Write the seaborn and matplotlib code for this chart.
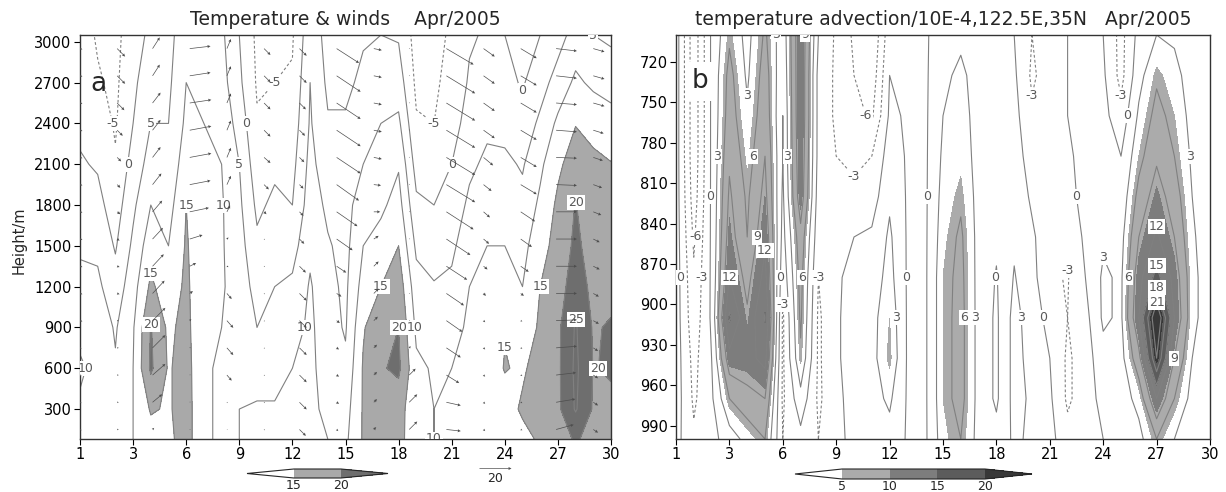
import numpy as np
import matplotlib
matplotlib.use("Agg")
import matplotlib.pyplot as plt
import seaborn as sns

# ---- panel a: temperature (degC), one row per day, values from 80 m up to 3050 m
days = list(range(31))
heights = [80, 300, 600, 900, 1200, 1500, 1800, 2100, 2400, 2700, 3050]
temp_c = [
    [8, 9.5, 10.5, 9, 7, 4, 2, 0.5, -1, -2.5, -3],
    [8, 8.5, 9, 8, 6, 4, 1.5, -0.5, -2.5, -4.5, -5.5],
    [7, 6.5, 5.5, 4.5, 2, -0.5, -2.5, -4.5, -5.5, -6, -6.5],
    [10, 10, 10, 9.5, 8, 6, 4, 2, 0, -1, -2],
    [13, 15.5, 20.8, 20.3, 16, 13, 10, 7, 5, 3, 1],
    [14, 14.5, 14.5, 14, 12, 10, 8, 6, 5, 4, 3],
    [17, 17, 17, 16.5, 16, 15.5, 15, 13, 11, 10, 9],
    [11, 11, 10.5, 10.5, 11, 11.5, 12, 11, 10, 9, 8],
    [9, 9, 9.5, 10, 10.5, 10.5, 10.5, 10, 8.5, 7, 6],
    [10, 10, 10, 9, 8, 7, 6, 5, 3, 1, 0],
    [11, 10.5, 8, 5, 3, 1, -1, -3, -4.5, -5.5, -6],
    [11, 10.5, 8, 6, 5, 3, 1, -1, -3, -5, -6],
    [12, 11.5, 10, 8, 6, 3, 0, -1.5, -3, -4.5, -5.5],
    [11, 11, 11, 11, 10.5, 9, 7.5, 6.5, 5.5, 5, 3.5],
    [10, 9, 8, 7, 6.5, 5.5, 4, 2, 0.5, -1, -2],
    [9, 8, 6, 4.5, 4, 3.5, 3, 2, 0.5, -1, -2],
    [15.5, 15.5, 15.5, 14.5, 12, 10, 8, 5, 3, 1, -0.5],
    [16, 17, 19.5, 19, 15, 12, 9, 7, 5, 2.5, 0],
    [16.5, 17, 21, 20, 18, 15, 12, 9.5, 6, 2.5, -0.5],
    [12, 11.5, 11, 9, 7, 4, 1, -2, -4.5, -6, -7],
    [10, 10, 9.5, 7.5, 5.5, 2, 0, -3, -5, -6, -7],
    [12, 11, 10, 8, 6, 4, 2, 0, -2, -3, -4],
    [12, 12, 11.5, 11, 10, 8, 6, 4, 2, 0.5, -0.5],
    [13, 13, 13, 12, 11, 10, 8, 6, 4, 2, 0.5],
    [13, 13.5, 15.2, 14.8, 12, 10, 8, 6, 3.5, 1.5, 0],
    [14, 15.5, 14.5, 13, 10, 8.5, 6.5, 4.5, 2, -0.5, -2],
    [15.5, 16.5, 16.5, 15.5, 15, 13, 11, 9, 6, 3, 0],
    [18, 19, 19, 19, 17.5, 17, 16, 14, 11, 7, 3],
    [20.5, 25.5, 26, 25.5, 23, 21, 20.2, 17.5, 14.8, 11, 7],
    [18.5, 19.5, 19.8, 19.5, 18.5, 18, 17, 16, 13.5, 9, 5],
    [17, 19, 20.5, 20.5, 18.5, 17, 16, 15.2, 12, 8, 4],
]

# ---- panel a: winds (m/s), one row per plotted column, values from 150 m up to 2950 m
wind_days = [0, 2.1, 4.1, 6.2, 8.3, 10.4, 12.4, 14.5, 16.6, 18.6, 20.7, 22.8, 24.9, 26.9, 29.0]
wind_heights = [150, 350, 550, 750, 950, 1150, 1350, 1550, 1750, 1950, 2150, 2350, 2550, 2750, 2950]
wind_u = [
    [1, 1, 1, 1, 1.5, 1.5, 1.5, 1.5, 1.5, 1.5, 1.5, 1.5, 1.5, 1.5, 1.5],
    [1, 1, 1, 1, 1, 1.5, 1.5, 1.5, 2, 2, 2.5, 3.5, 4.5, 5, 5],
    [1, 6, 8, 8, 8, 7.5, 7, 6.5, 6, 5.5, 5, 5, 5, 4.5, 4.5],
    [0.5, 0.5, 0.5, 0.5, 1, 2, 4, 8, 12, 13, 13.5, 13.5, 13.5, 13, 13],
    [0.5, 0.5, 3, 4, 4, 3, 1, 1, 2, 2.5, 2.5, 2.5, 2.5, 2.5, 2.5],
    [0.5, 0.5, 0.5, 0.5, 0.5, 0.5, 0.5, 0.5, 1.5, 3, 4, 4, 4, 4, 4],
    [4, 4.5, 4.5, 4.5, 4.5, 4.5, 4, 3, 2.5, 2.5, 3, 3.5, 4, 4.5, 4.5],
    [1, 1.5, 1.5, 1.5, 2, 3, 6, 10, 13, 14, 15, 15, 15, 15, 14],
    [1.5, 2, 2, 2, 2.5, 3, 3, 3, 4, 4.5, 5, 5, 5, 5, 5],
    [5, 5, 4, 1, 0.5, 0.5, 0.5, 0.5, 0.5, 0.5, 0.5, 0.5, 0.5, 0.5, 0.5],
    [9, 9, 8, 9, 10, 11, 13, 15, 17, 18, 18, 18, 18, 18, 17],
    [1, 1, 1, 1, 1, 1.5, 2.5, 3.5, 4, 5, 6, 7, 7, 7, 7],
    [1, 1, 1, 1, 1, 2, 5, 7, 9, 10, 10, 10, 10, 10, 10],
    [11, 12, 12.5, 13, 13, 13, 13, 13, 13, 13, 13, 13, 13, 13, 13],
    [3, 3, 3, 3, 3.5, 3.5, 4, 4, 5, 5.5, 6, 6.5, 7, 7, 7],
]
wind_v = [
    [-0.5, -0.5, -0.5, -0.5, -0.5, -0.5, -0.5, -0.5, -0.5, -0.5, -0.5, -0.5, -0.5, -0.5, -0.5],
    [0, 0, 0, 0, 0, -0.5, -0.5, -1, -1.5, -2, -2.5, -3.5, -4.5, -5, -5],
    [1, 5, 7, 8, 8, 8, 7.5, 7, 7, 7, 6.5, 6.5, 6.5, 7, 7],
    [0.3, 0.3, 0.3, 0.5, 1, 1.5, 2, 2.5, 2.5, 2.5, 2.5, 2.5, 2, 2, 1.5],
    [0, -0.5, -3.5, -4.5, -4.5, -3.5, -0.5, 1, 4, 5.5, 6, 6, 6, 6, 6],
    [-0.5, -0.5, -0.5, -0.5, -0.5, -0.5, -0.5, -0.5, -1.5, -3, -3.5, -4, -4, -4, -4],
    [-4, -4.5, -4.5, -4.5, -4.5, -4.5, -4, -3, -2.5, -2.5, -3, -3.5, -4, -4.5, -4.5],
    [-1, -1, -1, -1, -1.5, -2, -4, -7, -9, -10, -10, -10, -10, -10, -9],
    [1.5, 2, 2, 2, 2.5, 3, 3, 2, 0, -0.5, -1, -1, -1, -1, -1],
    [5, 5, 4, 1, 0.3, 0.3, 0.3, 0.3, 0.3, 0.3, 0.3, 0.3, 0.3, 0.3, 0.3],
    [-1, -2, -5, -6, -7, -7.5, -8.5, -10, -11, -11, -11, -11, -11, -11, -10],
    [-1, -1, -1, -1, -1, -1.5, -2, -3, -3.5, -4, -5, -5, -5, -5, -5],
    [-0.5, -0.5, -0.5, -0.5, -0.5, -1.5, -3.5, -5, -6, -6, -6, -6, -6, -6, -6],
    [3, 2, 1.5, 1, 0.5, 0, 0, 0, 0, -0.5, -0.5, -1, -1, -1.5, -1.5],
    [-2, -2, -2, -2, -2, -2, -2, -2, -2, -2, -2, -2, -2, -2, -2],
]

# ---- panel b: temperature advection (1E-4), one row per day, 1000 hPa up to 700 hPa
pressures = [1000, 970, 940, 910, 880, 850, 820, 790, 760, 730, 700]
advection = [
    [1, 1.5, 1.5, 1.5, 1.5, 1.5, 1.5, 1.5, 1.5, 1.5, 1.5],
    [-2.5, -3.5, -4, -5, -5.5, -6.5, -7.5, -8, -8, -8, -8],
    [-1, -0.5, 0, 0.5, 0.5, 0.5, 0.5, 0.5, 0.5, 0.5, 0.5],
    [1.5, 6, 11, 15.5, 12, 10.5, 9.5, 8.5, 7.5, 7, 5.5],
    [4, 8, 11, 9.5, 8, 6, 5.5, 4.5, 3.5, 2.5, 2],
    [6, 9, 13, 15.3, 13, 11.5, 10, 9, 8, 7.5, 6.5],
    [-3, -3.5, -3.5, -3.5, -2, -1, -0.5, 0, 0, 0.5, 1],
    [-1, 2, 5.5, 6.5, 7, 8, 11, 11.5, 12, 12, 12],
    [-3, -3.5, -3.5, -3.5, -3, -2, -1.5, -1, -1, -1, 0],
    [-1, -1, -0.5, -0.5, -0.5, -1, -2, -3, -3.5, -3.5, -3.5],
    [1, 1.5, 1.5, 1.5, 1, 0, -2, -4, -5, -6, -6.5],
    [1.5, 2, 2, 2, 1.5, 0.5, -1.5, -3, -6.5, -8, -9],
    [2, 3.5, 5.5, 5, 4, 3.5, 2.5, 1.5, 0.5, 0, -1],
    [-0.3, -0.3, -0.3, -0.3, -0.3, -0.3, -0.3, -0.3, -0.3, -0.3, -0.3],
    [-0.5, -0.5, -0.5, -0.5, -0.5, -0.5, -0.5, -0.5, -0.5, -0.5, -0.5],
    [4.5, 5, 5, 5, 5, 4.5, 4, 3.5, 3, 2.5, 2],
    [6, 7, 7, 7, 6.8, 6.5, 5.5, 4.5, 4, 3.5, 2.5],
    [2, 2, 2, 2, 2, 2, 2, 2, 2, 2, 2],
    [1, -0.5, -0.5, -0.5, -0.2, 0.5, 1, 1, 1, 1, 1],
    [3.5, 4, 4, 4, 3.2, 2.5, 2, 1.5, 1, 0.5, 0],
    [2.5, 2.5, 2, 1.5, 1, 0.5, -0.5, -1.5, -2.5, -3.5, -3],
    [1, 0.5, 0, -1, -2.5, -2, -1.5, -1, -1, -1.5, -2],
    [-2, -3.5, -3.5, -3, -3.2, -2, -1, -0.5, 0, 0, 0],
    [-1, -1.5, -1.5, -1, 0, 0.5, 1, 1, 1, 1, 0.5],
    [0, 1, 2, 3.5, 3.5, 2.5, 2, 1.5, 1, 0.5, 0],
    [1, 1.5, 2, 2.5, 2.5, 2, 1, 0, -2, -4, -4],
    [2, 4, 8, 12, 11, 9, 7, 5, 3.5, 2, 1],
    [6, 12, 21, 24, 16, 12.5, 10.5, 8.5, 7, 5.5, 3],
    [3, 6, 9, 12, 11, 9, 7.5, 6, 5, 4, 2.5],
    [1, 2, 3, 4, 4, 3.5, 3, 2.5, 2, 1.5, 1],
    [0, 0.5, 1, 1, 1, 1, 1, 1, 1, 0.5, 0],
]

x_ticks = [0, 3, 6, 9, 12, 15, 18, 21, 24, 27, 30]
x_labels = ["1", "3", "6", "9", "12", "15", "18", "21", "24", "27", "30"]
height_ticks = [300, 600, 900, 1200, 1500, 1800, 2100, 2400, 2700, 3000]
pressure_ticks = [720, 750, 780, 810, 840, 870, 900, 930, 960, 990]

W, H = 1226, 492
sns.set_style("ticks")
plt.rcParams["font.family"] = ["DejaVu Sans"]
plt.rcParams["contour.negative_linestyle"] = (0, (2.5, 2))

fig = plt.figure(figsize=(W / 100, H / 100), dpi=100)
ax1 = fig.add_axes([80 / W, 1 - 439 / H, 531 / W, 404 / H])
ax2 = fig.add_axes([676 / W, 1 - 439 / H, 534 / W, 404 / H])

line_grey = "0.5"
label_grey = "0.35"


def label_contours(ax, cs, levels):
    # GrADS style: upright labels in small white boxes
    texts = ax.clabel(cs, levels=levels, fmt="%d", fontsize=9, inline=False,
                      colors=label_grey)
    for t in texts:
        t.set_rotation(0)
        t.set_bbox(dict(boxstyle="square,pad=0.08", fc="white", ec="none"))


# panel a
Xa, Ya = np.meshgrid(days, heights)
T = np.array(temp_c).T
cf1 = ax1.contourf(Xa, Ya, T, levels=[15, 20], extend="both",
                   colors=["white", "#a9a9a9", "#6e6e6e"])
cs1 = ax1.contour(Xa, Ya, T, levels=np.arange(-10, 30, 5), colors=line_grey,
                  linewidths=0.8)
label_contours(ax1, cs1, cs1.levels)

WX, WY = np.meshgrid(wind_days, wind_heights)
U = np.array(wind_u).T
V = np.array(wind_v).T
q = ax1.quiver(WX, WY, U, V, pivot="tail", scale=62.5, scale_units="inches",
               width=0.0013, headwidth=4.5, headlength=4.5, headaxislength=4,
               color="0.3", zorder=4)
ax1.quiverkey(q, X=495 / W, Y=1 - 468 / H, U=20, label="20", labelpos="S",
              coordinates="figure", labelsep=0.04,
              fontproperties={"size": 9})

ax1.set_xlim(0, 30)
ax1.set_ylim(80, 3050)
ax1.set_yticks(height_ticks)
fig.text(98 / W, 1 - 84 / H, "a", fontsize=19, ha="center", va="center")

# panel b
Xb, Yb = np.meshgrid(days, pressures)
A = np.array(advection).T
cf2 = ax2.contourf(Xb, Yb, A, levels=[5, 10, 15, 20], extend="both",
                   colors=["white", "#ababab", "#7d7d7d", "#5c5c5c", "#383838"])
cs2 = ax2.contour(Xb, Yb, A, levels=np.arange(-9, 27, 3), colors=line_grey,
                  linewidths=0.8)
label_contours(ax2, cs2, cs2.levels)
ax2.set_xlim(0, 30)
ax2.set_ylim(1000, 700)
ax2.set_yticks(pressure_ticks)

for ax in (ax1, ax2):
    ax.set_xticks(x_ticks)
    ax.set_xticklabels(x_labels)
    ax.tick_params(direction="out", length=4, width=0.8, labelsize=10.5, pad=2,
                   colors="black")
    for s in ax.spines.values():
        s.set_linewidth(1.0)
        s.set_color("0.2")

ax2.text(0.045, 0.885, "b", transform=ax2.transAxes, fontsize=19,
         ha="center", va="center", zorder=6,
         bbox=dict(boxstyle="square,pad=0.25", fc="white", ec="none"))

# colour bars
cax1 = fig.add_axes([247 / W, 1 - 478 / H, 141 / W, 9 / H])
cb1 = fig.colorbar(cf1, cax=cax1, orientation="horizontal", extendfrac=1.0,
                   ticks=[15, 20])
cb1.ax.tick_params(length=0, labelsize=9, pad=1)
cb1.outline.set_linewidth(0.8)

cax2 = fig.add_axes([795 / W, 1 - 479 / H, 237 / W, 10 / H])
cb2 = fig.colorbar(cf2, cax=cax2, orientation="horizontal", extendfrac=0.33,
                   ticks=[5, 10, 15, 20])
cb2.ax.tick_params(length=0, labelsize=9, pad=1)
cb2.outline.set_linewidth(0.8)

# titles and axis label
fig.text(345 / W, 1 - 25 / H, "Temperature & winds    Apr/2005",
         ha="center", va="baseline", fontsize=13.5)
fig.text(943 / W, 1 - 25 / H,
         "temperature advection/10E-4,122.5E,35N   Apr/2005",
         ha="center", va="baseline", fontsize=13.5)
fig.text(19 / W, 1 - 240 / H, "Height/m", rotation=90, ha="center",
         va="center", fontsize=10.5)

fig.savefig("out.png", dpi=100)
